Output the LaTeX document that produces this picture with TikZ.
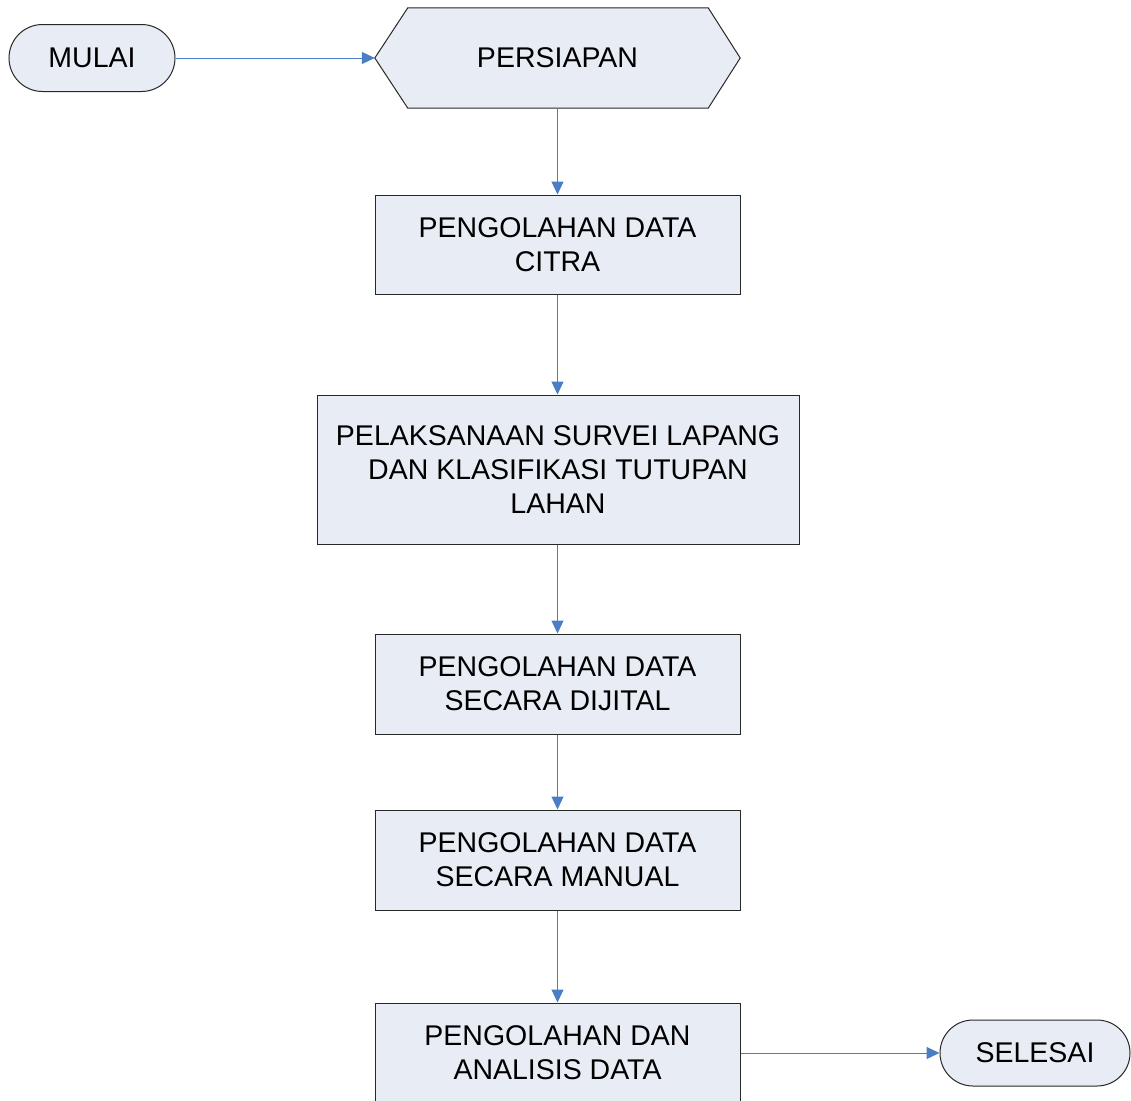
\documentclass[tikz,border=0pt]{standalone}
\usepackage{fontspec}
\setmainfont{Liberation Sans}
\usetikzlibrary{arrows.meta,shapes.misc}
\definecolor{boxfill}{RGB}{232,236,245}
\definecolor{arrowblue}{RGB}{74,126,196}
\definecolor{edge}{RGB}{40,40,40}
\tikzset{
  txt/.style={font=\fontsize{28.5}{34}\selectfont, align=center, text=black},
  procbox/.style={txt, rectangle, draw=edge, line width=1pt, fill=boxfill, inner sep=0pt},
  termbox/.style={txt, rounded rectangle, draw=edge, line width=1pt, fill=boxfill, inner sep=0pt},
  flow/.style={draw=arrowblue, line width=1pt, -{Triangle[length=13pt,width=12pt]}}
}
\begin{document}
\begin{tikzpicture}[x=1pt,y=-1pt]
\useasboundingbox (0,0) rectangle (1131,1100);
% start terminal
\node[termbox, minimum width=166pt, minimum height=67pt] (mulai) at (92,58) {MULAI};
% preparation (hexagon)
\node[txt, rectangle, inner sep=0pt, minimum width=365pt, minimum height=100pt] (persiapan) at (557.5,58) {};
\draw[draw=edge, line width=1pt, fill=boxfill]
  (persiapan.west) -- ([xshift=33pt]persiapan.north west) -- ([xshift=-32pt]persiapan.north east)
  -- (persiapan.east) -- ([xshift=-32pt]persiapan.south east) -- ([xshift=33pt]persiapan.south west) -- cycle;
\node[txt] at (persiapan.center) {PERSIAPAN};
% process boxes
\node[procbox, minimum width=365pt, minimum height=99pt] (citra) at (557.5,244.5) {PENGOLAHAN DATA\\CITRA};
\node[procbox, minimum width=482pt, minimum height=149pt] (survei) at (558,469.5) {PELAKSANAAN SURVEI LAPANG\\DAN KLASIFIKASI TUTUPAN\\LAHAN};
\node[procbox, minimum width=365pt, minimum height=100pt] (dijital) at (557.5,684) {PENGOLAHAN DATA\\SECARA DIJITAL};
\node[procbox, minimum width=365pt, minimum height=100pt] (manual) at (557.5,860) {PENGOLAHAN DATA\\SECARA MANUAL};
\node[procbox, minimum width=365pt, minimum height=100pt] (analisis) at (557.5,1053) {PENGOLAHAN DAN\\ANALISIS DATA};
% end terminal
\node[termbox, minimum width=190pt, minimum height=66pt] (selesai) at (1035,1053) {SELESAI};
% connectors
\draw[flow] (mulai.east) -- (persiapan.west);
\draw[flow] (persiapan.south) -- (citra.north);
\draw[flow] (citra.south) -- (survei.north -| citra.south);
\draw[flow] (survei.south -| citra.south) -- (dijital.north);
\draw[flow] (dijital.south) -- (manual.north);
\draw[flow] (manual.south) -- (analisis.north);
\draw[flow] (analisis.east) -- (selesai.west);
\end{tikzpicture}
\end{document}
